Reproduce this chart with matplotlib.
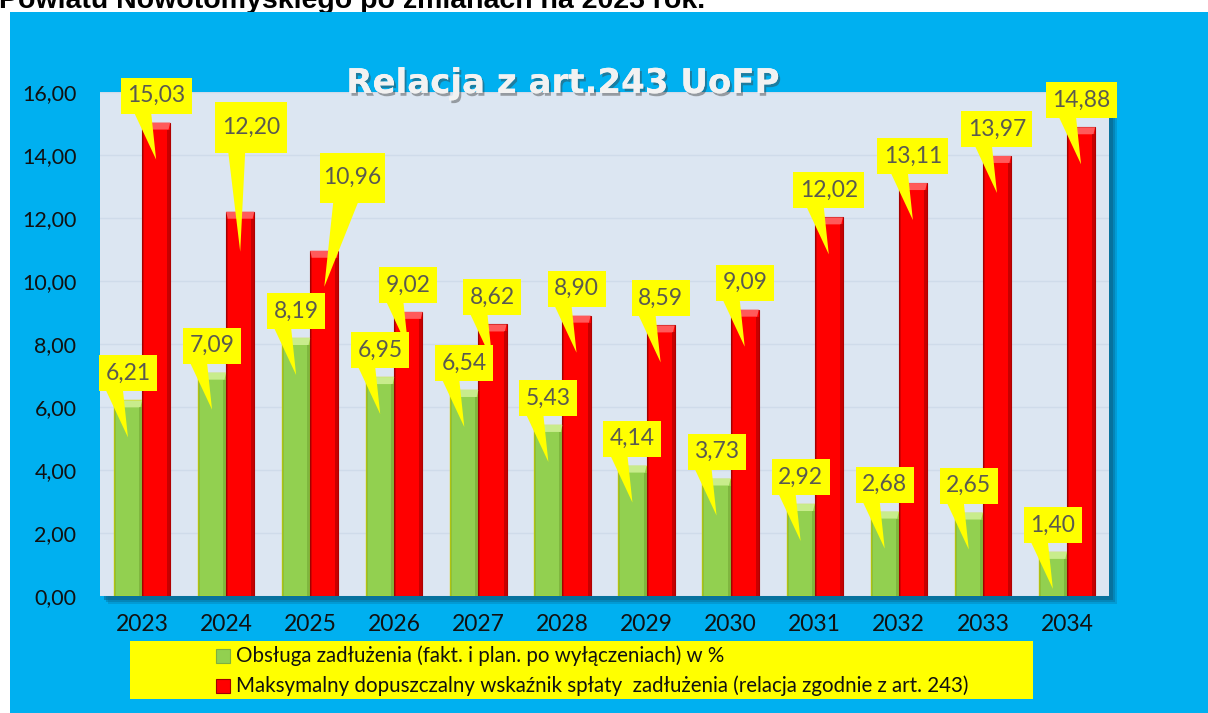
import matplotlib
matplotlib.use("Agg")
import matplotlib.pyplot as plt
from matplotlib.patches import Rectangle, Polygon
import matplotlib.patheffects as pe

# ---------------- data ----------------
years = ["2023", "2024", "2025", "2026", "2027", "2028", "2029", "2030", "2031", "2032", "2033", "2034"]
obsluga = [6.21, 7.09, 8.19, 6.95, 6.54, 5.43, 4.14, 3.73, 2.92, 2.68, 2.65, 1.40]
maksymalny = [15.03, 12.20, 10.96, 9.02, 8.62, 8.90, 8.59, 9.09, 12.02, 13.11, 13.97, 14.88]
yticks = [0, 2, 4, 6, 8, 10, 12, 14, 16]
legend_labels = ["Obsługa zadłużenia (fakt. i plan. po wyłączeniach) w %",
                 "Maksymalny dopuszczalny wskaźnik spłaty  zadłużenia (relacja zgodnie z art. 243)"]
title = "Relacja z art.243 UoFP"
top_text = "Powiatu Nowotomyskiego po zmianach na 2023 rok."

# ---------------- layout / style ----------------
W, H = 1208, 713
BLUE = "#00B0F0"
YEL = "#FFFF00"
GREEN = "#92D050"
RED = "#FF0000"
TXT = "#5A5A50"
FONT = ["Lato", "DejaVu Sans"]

fig = plt.figure(figsize=(W / 100, H / 100), dpi=100)
fig.patch.set_facecolor("white")

# blue background panel
fig.add_artist(Rectangle((10 / W, 0), 1 - 10 / W, (H - 12) / H, transform=fig.transFigure,
                         facecolor=BLUE, edgecolor="none", zorder=-10))
# cropped heading at very top
fig.text(-1 / W, 1 - 8 / H, top_text, fontsize=20.5, fontweight="bold",
         family=["Liberation Sans", "DejaVu Sans"], color="black", ha="left", va="baseline",
         zorder=-11)

ax_l, ax_b, ax_w, ax_h = 100, H - 596, 1009, 504
# plot area shadow
for k, a in [(8, 0.25), (6, 0.35), (4, 0.5)]:
    fig.add_artist(Rectangle(((ax_l + k) / W, (ax_b - k) / H), ax_w / W, ax_h / H,
                             transform=fig.transFigure, facecolor="#0A5F85",
                             edgecolor="none", alpha=a, zorder=-5))

ax = fig.add_axes([ax_l / W, ax_b / H, ax_w / W, ax_h / H])
ax.set_facecolor("#DCE6F2")
ax.set_xlim(-0.5, len(years) - 0.5)
ax.set_ylim(0, 16)
for s in ax.spines.values():
    s.set_visible(False)
ax.set_yticks(yticks)
ax.set_yticklabels([f"{v:.2f}".replace(".", ",") for v in yticks], fontsize=15.5,
                   family=FONT, color="#111111")
ax.set_xticks(range(len(years)))
ax.set_xticklabels(years, fontsize=16.5, family=FONT, color="#111111")
ax.tick_params(axis="y", length=0, pad=17)
ax.tick_params(axis="x", length=0, pad=13)
ax.grid(axis="y", color="#CFDBEA", linewidth=1)
ax.set_axisbelow(True)

px_x = (len(years)) / ax_w      # data units per pixel (x)
px_y = 16 / ax_h                # data units per pixel (y)

bw = 0.335
xs = list(range(len(years)))
gx = [x - bw / 2 for x in xs]
rx = [x + bw / 2 for x in xs]
ax.bar(gx, obsluga, width=bw, color=GREEN, edgecolor="#D6D600", linewidth=1.0, zorder=3)
ax.bar(rx, maksymalny, width=bw, color=RED, edgecolor="#B00000", linewidth=0.8, zorder=3)

# bevel highlights / side shading
def bevel(xc, top, light, dark):
    x0, x1 = xc - bw / 2, xc + bw / 2
    h = 7 * px_y
    ax.add_patch(Polygon([(x0, top), (x1, top), (x1 - 0.02, top - h), (x0 + 0.02, top - h)],
                         closed=True, facecolor=light, edgecolor="none", zorder=4))
    ax.add_patch(Rectangle((x1 - 3 * px_x, 0), 3 * px_x, top - h, facecolor=dark,
                           edgecolor="none", alpha=0.5, zorder=4))
    ax.add_patch(Rectangle((x0, 0), 2 * px_x, top - h, facecolor=dark,
                           edgecolor="none", alpha=0.35, zorder=4))

for i in xs:
    bevel(gx[i], obsluga[i], "#C8EC8C", "#6E9E30")
    bevel(rx[i], maksymalny[i], "#FF5A5A", "#900000")

# callouts: (dx of box centre px, box bottom above bar top px, box height px,
#            box width px or None, tip below top px, pointer base x-range px rel. bar centre)
def callout(xc, val, dx=0, lift=9, bh=36, bwid=None, tip=37, base=(-22, -5)):
    label = f"{val:.2f}".replace(".", ",")
    if bwid is None:
        bwid = 58 if len(label) == 4 else 71
    cx = xc + dx * px_x
    y0 = val + lift * px_y
    ax.add_patch(Rectangle((cx - bwid / 2 * px_x, y0), bwid * px_x, bh * px_y,
                           facecolor=YEL, edgecolor="none", zorder=6, clip_on=False))
    ax.add_patch(Polygon([(xc + base[0] * px_x, y0 + 1 * px_y), (xc + base[1] * px_x, y0 + 1 * px_y),
                          (xc, val - tip * px_y)], closed=True, facecolor=YEL,
                         edgecolor="none", zorder=6, clip_on=False))
    ax.text(cx, y0 + bh / 2 * px_y, label, ha="center", va="center", fontsize=16.5,
            family=FONT, color=TXT, zorder=7, clip_on=False)

red_special = {1: dict(dx=11, lift=59, bh=51, bwid=72, tip=40, base=(-12, 5)),
               2: dict(dx=28, lift=48, bh=50, bwid=65, tip=36, base=(9, 34))}
for i in xs:
    callout(gx[i], obsluga[i])
    callout(rx[i], maksymalny[i], **red_special.get(i, {}))

# title with shadow
fig.text(563 / W, 1 - 93 / H, title, fontsize=24.5, fontweight="bold",
         family=["DejaVu Sans"], color="#F2F2F2", ha="center", va="baseline",
         path_effects=[pe.withSimplePatchShadow(offset=(1.5, -2), shadow_rgbFace="#404040",
                                                alpha=0.45), pe.Normal()], zorder=10)

# legend (yellow box)
fig.add_artist(Rectangle((130 / W, (H - 699) / H), (1033 - 130) / W, 58 / H,
                         transform=fig.transFigure, facecolor=YEL, edgecolor="none", zorder=5))
for k, (lab, col, edge) in enumerate([(legend_labels[0], GREEN, "#7FAF40"),
                                      (legend_labels[1], RED, "#A00000")]):
    yc = 656 + 30 * k
    fig.add_artist(Rectangle((216 / W, (H - yc - 7) / H), 14 / W, 14 / H,
                             transform=fig.transFigure, facecolor=col, edgecolor=edge,
                             linewidth=0.8, zorder=6))
    fig.text(236 / W, (H - yc) / H, lab, fontsize=14.8, family=FONT, color="#111111",
             ha="left", va="center", zorder=7)

fig.savefig("out.png", dpi=100, facecolor=fig.get_facecolor())
